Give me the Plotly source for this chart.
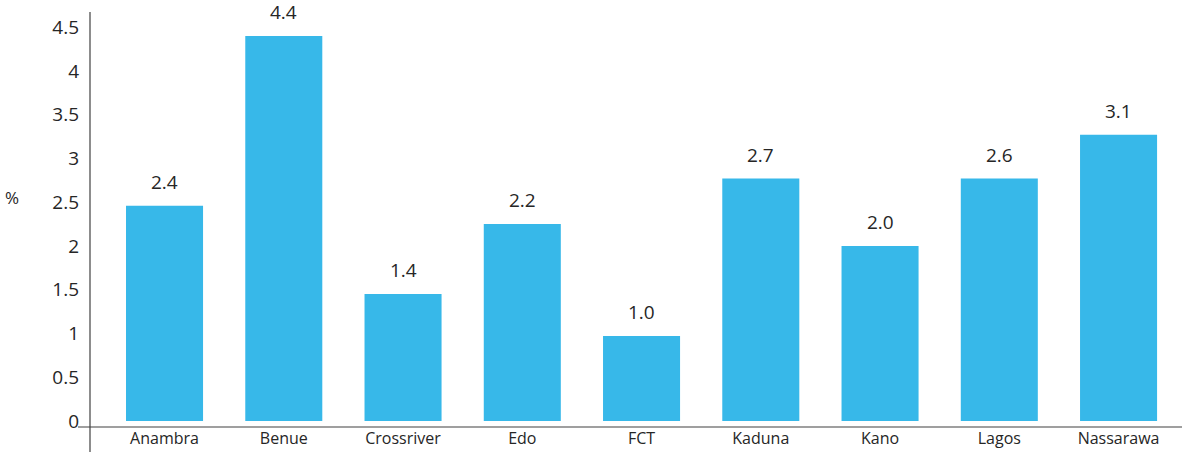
import plotly.graph_objects as go

states = ["Anambra", "Benue", "Crossriver", "Edo", "FCT", "Kaduna", "Kano", "Lagos", "Nassarawa"]
bar_values = [2.46, 4.40, 1.45, 2.25, 0.97, 2.77, 2.00, 2.77, 3.27]
value_labels = ["2.4", "4.4", "1.4", "2.2", "1.0", "2.7", "2.0", "2.6", "3.1"]
y_ticks = [0, 0.5, 1, 1.5, 2, 2.5, 3, 3.5, 4, 4.5]
y_tick_text = ["0", "0.5", "1", "1.5", "2", "2.5", "3", "3.5", "4", "4.5"]

BAR = "#37B8E9"
TXT = "#262626"
FONT = "Open Sans"

fig = go.Figure()
fig.add_trace(go.Bar(x=states, y=bar_values, marker_color=BAR, marker_line_width=0,
                     hoverinfo="skip"))

for s, v, lab in zip(states, bar_values, value_labels):
    fig.add_annotation(x=s, y=v, text=lab, showarrow=False, yanchor="bottom",
                       yshift=10, borderpad=0, font=dict(family=FONT, size=19, color=TXT))

fig.add_annotation(xref="paper", yref="y", x=-78/1092, y=2.55, text="%", showarrow=False,
                   xanchor="center", font=dict(family=FONT, size=17, color=TXT))

# axis lines
fig.add_shape(type="line", xref="paper", yref="paper", x0=0, x1=0, y0=1, y1=-25/415,
              line=dict(color="#404040", width=1.2))
fig.add_shape(type="line", xref="paper", yref="paper", x0=-12/1092, x1=1, y0=0, y1=0,
              line=dict(color="#404040", width=1.2))

fig.update_layout(
    width=1182, height=458,
    margin=dict(l=90, r=0, t=12, b=31, autoexpand=False),
    plot_bgcolor="white", paper_bgcolor="white",
    bargap=0.354,
    showlegend=False,
    xaxis=dict(range=[-0.625, 8.532], showline=False, showgrid=False, zeroline=False,
               automargin=False, ticks="",
               tickfont=dict(family=FONT, size=16, color=TXT)),
    yaxis=dict(range=[-0.069, 4.674], tickvals=y_ticks, ticktext=y_tick_text,
               showline=False, showgrid=False, zeroline=False, ticks="",
               automargin=False, ticklabelstandoff=10,
               tickfont=dict(family=FONT, size=19, color=TXT)),
)

fig.write_html("out.html", config={"displayModeBar": False},
               post_script="document.body.style.margin='0';")
